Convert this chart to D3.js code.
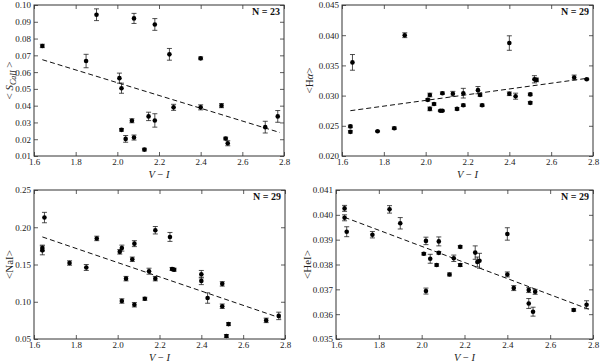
<!DOCTYPE html>
<html>
<head>
<meta charset="utf-8">
<script src="https://cdn.jsdelivr.net/npm/d3@7"></script>
<style>
  body { margin: 0; background: #fff; }
  svg { display: block; font-family: "Liberation Serif", "DejaVu Serif", serif; }
  .tick text { font-size: 9px; fill: #222; }
  .tick line { stroke: #333; stroke-width: 0.8; }
</style>
</head>
<body>
<div id="chart"></div>
<script>
// colours of the 29 stars (V - I)
const vi29 = [1.64, 1.64, 1.65, 1.77, 1.85, 1.90, 2.01, 2.02, 2.02, 2.04, 2.07, 2.08, 2.08, 2.13, 2.15,
              2.18, 2.18, 2.25, 2.26, 2.27, 2.40, 2.40, 2.43, 2.50, 2.50, 2.52, 2.53, 2.71, 2.77]

// the 23 stars with CaII
const vi23 = [1.64, 1.85, 1.90, 2.01, 2.02, 2.02, 2.04, 2.07, 2.08, 2.08, 2.13, 2.15,
              2.18, 2.18, 2.25, 2.27, 2.40, 2.40, 2.50, 2.52, 2.53, 2.71, 2.77]
const caII    = [0.0756, 0.0666, 0.0942, 0.0564, 0.0504, 0.0256, 0.0202, 0.0310, 0.0920, 0.0210, 0.0138, 0.0336,
                 0.0884, 0.0312, 0.0706, 0.0390, 0.0682, 0.0390, 0.0400, 0.0204, 0.0176, 0.0272, 0.0336]
const caIIErr = [0.0010, 0.0040, 0.0035, 0.0030, 0.0030, 0.0008, 0.0020, 0.0012, 0.0030, 0.0015, 0.0008, 0.0025,
                 0.0035, 0.0040, 0.0035, 0.0018, 0.0008, 0.0015, 0.0012, 0.0008, 0.0015, 0.0035, 0.0035]

const hAlpha    = [0.0249, 0.0240, 0.0355, 0.0241, 0.0246, 0.0400, 0.0293, 0.0301, 0.0278, 0.0286, 0.0275, 0.0304, 0.0275, 0.0303, 0.0278,
                   0.0304, 0.0284, 0.0309, 0.0301, 0.0284, 0.0303, 0.0387, 0.0299, 0.0302, 0.0288, 0.0327, 0.0326, 0.0330, 0.0327]
const hAlphaErr = [0.0002, 0.0002, 0.0013, 0.0001, 0.0002, 0.0004, 0.0002, 0.0003, 0.0003, 0.0002, 0.0001, 0.0002, 0.0001, 0.0004, 0.0002,
                   0.0008, 0.0002, 0.0006, 0.0002, 0.0002, 0.0003, 0.0012, 0.0005, 0.0002, 0.0002, 0.0006, 0.0003, 0.0004, 0.0001]

const naI    = [0.172, 0.169, 0.213, 0.152, 0.146, 0.185, 0.167, 0.172, 0.101, 0.131, 0.157, 0.178, 0.096, 0.104, 0.141,
                0.196, 0.131, 0.187, 0.144, 0.143, 0.137, 0.128, 0.105, 0.124, 0.094, 0.054, 0.070, 0.075, 0.081]
const naIErr = [0.004, 0.006, 0.007, 0.003, 0.004, 0.003, 0.003, 0.004, 0.003, 0.003, 0.003, 0.004, 0.003, 0.002, 0.004,
                0.005, 0.003, 0.006, 0.002, 0.002, 0.005, 0.005, 0.007, 0.003, 0.003, 0.002, 0.002, 0.003, 0.005]

const heI    = [0.04026, 0.03988, 0.03932, 0.03920, 0.04022, 0.03966, 0.03843, 0.03895, 0.03693, 0.03823, 0.03798, 0.03893, 0.03847, 0.03760, 0.03825,
                0.03871, 0.03798, 0.03848, 0.03810, 0.03815, 0.03923, 0.03760, 0.03705, 0.03697, 0.03643, 0.03610, 0.03690, 0.03617, 0.03638]
const heIErr = [0.00012, 0.00012, 0.00020, 0.00013, 0.00015, 0.00023, 0.00005, 0.00015, 0.00012, 0.00018, 0.00005, 0.00018, 0.00005, 0.00006, 0.00013,
                0.00005, 0.00006, 0.00027, 0.00020, 0.00030, 0.00025, 0.00010, 0.00010, 0.00010, 0.00020, 0.00018, 0.00010, 0.00005, 0.00016]

// dashed fit lines: [x0, y0, x1, y1]
const fitCaII   = [1.64, 0.0674, 2.78, 0.0240]
const fitHAlpha = [1.64, 0.0275, 2.78, 0.0329]
const fitNaI    = [1.64, 0.187, 2.78, 0.078]
const fitHeI    = [1.64, 0.03990, 2.78, 0.03620]

const xTicks = [1.6, 1.8, 2.0, 2.2, 2.4, 2.6, 2.8]

const panels = [
  { x: vi23, y: caII, err: caIIErr, fit: fitCaII, n: 23, dom: [0.01, 0.10], step: 0.01, fmt: '.2f',
    box: [34, 5, 284, 156], label: 'ca', labelX: 9 },
  { x: vi29, y: hAlpha, err: hAlphaErr, fit: fitHAlpha, n: 29, dom: [0.020, 0.045], step: 0.005, fmt: '.3f',
    box: [342, 5, 593, 156], label: 'ha', labelX: 309 },
  { x: vi29, y: naI, err: naIErr, fit: fitNaI, n: 29, dom: [0.05, 0.25], step: 0.05, fmt: '.2f',
    box: [34, 190, 285, 339], label: 'na', labelX: 9 },
  { x: vi29, y: heI, err: heIErr, fit: fitHeI, n: 29, dom: [0.035, 0.041], step: 0.001, fmt: '.3f',
    box: [336, 190, 593, 339], label: 'he', labelX: 307 }
]

const svg = d3.select('#chart').append('svg').attr('width', 600).attr('height', 363)

function yLabel(t, kind) {
  if (kind === 'ca') {
    t.append('tspan').text('< ')
    t.append('tspan').attr('font-style', 'italic').text('S')
    t.append('tspan').attr('font-style', 'italic').attr('font-size', 8).attr('dy', 3).text('CaII')
    t.append('tspan').attr('dy', -3).text(' >')
  } else if (kind === 'ha') {
    t.append('tspan').text('<H')
    t.append('tspan').attr('font-style', 'italic').text('α')
    t.append('tspan').text('>')
  } else if (kind === 'na') {
    t.text('<NaI>')
  } else {
    t.text('<HeI>')
  }
}

panels.forEach(p => {
  const [x0, y0, x1, y1] = p.box
  const x = d3.scaleLinear().domain([1.6, 2.8]).range([x0, x1])
  const y = d3.scaleLinear().domain(p.dom).range([y1, y0])
  const nT = Math.round((p.dom[1] - p.dom[0]) / p.step)
  const yTicks = d3.range(nT + 1).map(i => p.dom[0] + i * p.step)
  const g = svg.append('g')

  // axes, ticks pointing inward on all four sides
  g.append('g').attr('transform', `translate(0,${y1})`)
    .call(d3.axisBottom(x).tickValues(xTicks).tickFormat(d3.format('.1f')).tickSizeInner(-4).tickSizeOuter(0).tickPadding(3))
  g.append('g').attr('transform', `translate(0,${y0})`)
    .call(d3.axisTop(x).tickValues(xTicks).tickFormat('').tickSizeInner(-4).tickSizeOuter(0))
  g.append('g').attr('transform', `translate(${x0},0)`)
    .call(d3.axisLeft(y).tickValues(yTicks).tickFormat(d3.format(p.fmt)).tickSizeInner(-4).tickSizeOuter(0).tickPadding(3))
  g.append('g').attr('transform', `translate(${x1},0)`)
    .call(d3.axisRight(y).tickValues(yTicks).tickFormat('').tickSizeInner(-4).tickSizeOuter(0))
  g.selectAll('.domain').remove()
  g.selectAll('g').attr('font-family', null).attr('font-size', null)

  g.append('rect').attr('x', x0).attr('y', y0).attr('width', x1 - x0).attr('height', y1 - y0)
    .attr('fill', 'none').attr('stroke', '#333').attr('stroke-width', 1)

  // fit
  g.append('line')
    .attr('x1', x(p.fit[0])).attr('y1', y(p.fit[1]))
    .attr('x2', x(p.fit[2])).attr('y2', y(p.fit[3]))
    .attr('stroke', '#111').attr('stroke-width', 1).attr('stroke-dasharray', '5,3')

  const pts = p.x.map((v, i) => ({ v, m: p.y[i], e: p.err[i] }))

  // error bars
  const eb = g.selectAll('g.eb').data(pts).enter().append('g').attr('class', 'eb')
    .attr('stroke', '#222').attr('stroke-width', 0.8)
  eb.append('line').attr('x1', d => x(d.v)).attr('x2', d => x(d.v))
    .attr('y1', d => y(d.m - d.e)).attr('y2', d => y(d.m + d.e))
  eb.append('line').attr('x1', d => x(d.v) - 2.5).attr('x2', d => x(d.v) + 2.5)
    .attr('y1', d => y(d.m - d.e)).attr('y2', d => y(d.m - d.e))
  eb.append('line').attr('x1', d => x(d.v) - 2.5).attr('x2', d => x(d.v) + 2.5)
    .attr('y1', d => y(d.m + d.e)).attr('y2', d => y(d.m + d.e))

  g.selectAll('circle').data(pts).enter().append('circle')
    .attr('cx', d => x(d.v)).attr('cy', d => y(d.m)).attr('r', 2.3).attr('fill', '#000')

  // N label
  g.append('text').attr('x', x1 - 4).attr('y', y0 + 10).attr('text-anchor', 'end')
    .attr('font-size', 10).attr('font-weight', 'bold').attr('fill', '#111').text(`N = ${p.n}`)

  // x label
  const xl = g.append('text').attr('x', (x0 + x1) / 2).attr('y', y1 + 21.5).attr('text-anchor', 'middle')
    .attr('font-size', 10.5).attr('fill', '#222')
  xl.append('tspan').attr('font-style', 'italic').text('V')
  xl.append('tspan').text(' − ')
  xl.append('tspan').attr('font-style', 'italic').text('I')

  // y label
  const yl = g.append('text').attr('transform', `translate(${p.labelX},${(y0 + y1) / 2}) rotate(-90)`)
    .attr('text-anchor', 'middle').attr('dy', '0.35em').attr('font-size', 11).attr('fill', '#222')
  yLabel(yl, p.label)
})
</script>
</body>
</html>
